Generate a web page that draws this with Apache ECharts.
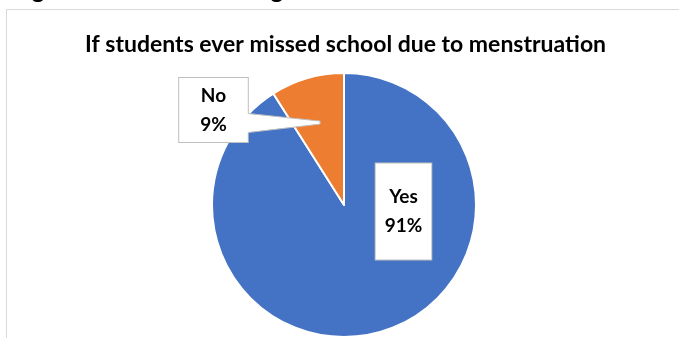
<!DOCTYPE html>
<html>
<head>
<meta charset="utf-8">
<script src="https://cdn.jsdelivr.net/npm/echarts@6/dist/echarts.min.js"></script>
<style>
  html, body { margin: 0; padding: 0; background: #fff; }
  #chart { width: 679px; height: 338px; }
</style>
</head>
<body>
<div id="chart"></div>
<script>
// Survey answers and their shares (percent)
const categories = ['Yes', 'No'];
const shares = [91, 9];
const sliceColors = ['#4472C4', '#ED7D31'];

const chartTitle = 'If students ever missed school due to menstruation';
const figureCaption = 'Figure 3: Results showing if students ever missed school due to menstruation';

const pieCenter = [344, 205];
const pieRadius = 132;

// Tip of the callout for the "No" slice: sits on the slice's mid angle
const total = shares.reduce((a, b) => a + b, 0);
const noHalfAngle = (shares[1] / total) * Math.PI; // half the slice, radians
const tipR = pieRadius * 0.65;
const tipX = pieCenter[0] - tipR * Math.sin(noHalfAngle);
const tipY = pieCenter[1] - tipR * Math.cos(noHalfAngle);

const chart = echarts.init(document.getElementById('chart'), null, { renderer: 'canvas' });

const labelBase = {
  show: true,
  position: 'inside',
  formatter: p => p.name + '\n' + p.value + '%',
  color: '#000',
  fontFamily: 'Lato',
  fontWeight: 'bold',
  fontSize: 19,
  lineHeight: 29,
  backgroundColor: '#fff',
  borderColor: '#bfbfbf',
  borderWidth: 1
};

chart.setOption({
  animation: false,
  backgroundColor: '#fff',
  title: {
    text: chartTitle,
    left: 80,
    top: 28,
    textStyle: { fontFamily: 'Lato', fontWeight: 'bold', fontSize: 23, color: '#000' }
  },
  graphic: [
    {
      type: 'rect',
      z: -1,
      shape: { x: 6.5, y: 9.5, width: 800, height: 500 },
      style: { fill: 'none', stroke: '#d9d9d9', lineWidth: 1 }
    },
    {
      type: 'text',
      left: 12,
      top: -22,
      style: { text: figureCaption, fontFamily: 'Lato', fontWeight: 'bold', fontSize: 24, fill: '#000' }
    },
    {
      type: 'polygon',
      z: 100,
      shape: { points: [[247, 113.5], [tipX, tipY - 1.5], [tipX, tipY + 1.5], [247, 132.5]] },
      style: { fill: '#fff', stroke: 'none' }
    },
    {
      type: 'polyline',
      z: 101,
      shape: { points: [[248.5, 113.5], [tipX, tipY - 1.5], [tipX, tipY + 1.5], [248.5, 132.5]] },
      style: { fill: 'none', stroke: '#bfbfbf', lineWidth: 1 }
    }
  ],
  series: [{
    type: 'pie',
    center: pieCenter,
    radius: pieRadius,
    startAngle: 90,
    clockwise: true,
    itemStyle: { borderColor: '#fff', borderWidth: 2 },
    emphasis: { disabled: true },
    label: labelBase,
    labelLine: { show: false },
    labelLayout: function (params) {
      if (params.dataIndex === 0) {
        return { x: 403.5, y: 211.5, align: 'center', verticalAlign: 'middle' };
      }
      return { x: 213.5, y: 110, align: 'center', verticalAlign: 'middle' };
    },
    data: categories.map((name, i) => ({
      name: name,
      value: shares[i],
      itemStyle: { color: sliceColors[i] },
      label: i === 0 ? { padding: [19, 9, 19, 9] } : { padding: [3, 21, 3, 21] }
    }))
  }]
});
</script>
</body>
</html>
